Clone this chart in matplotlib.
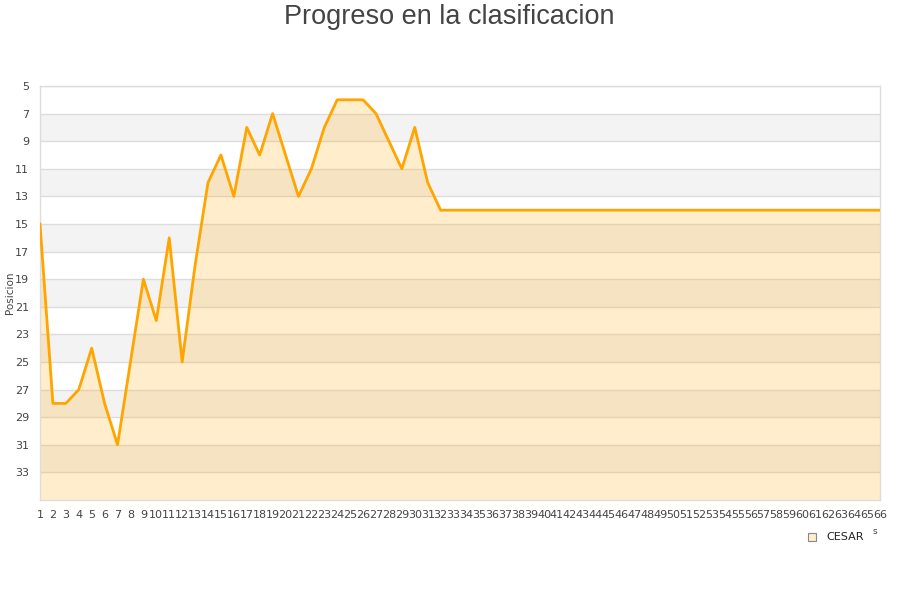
import matplotlib
matplotlib.use("Agg")
import matplotlib.pyplot as plt
from matplotlib.patches import Rectangle

title = "Progreso en la clasificacion"
ylabel = "Posicion"
series_name = "CESAR"
jornadas = list(range(1, 67))
posiciones = [15, 28, 28, 27, 24, 28, 31, 25, 19, 22,
              16, 25, 18, 12, 10, 13, 8, 10, 7, 10,
              13, 11, 8, 6, 6, 6, 7, 9, 11, 8,
              12, 14] + [14] * 34
y_ticks = list(range(5, 35, 2))

fig = plt.figure(figsize=(9, 6), dpi=100)
ax = fig.add_axes([40 / 900, 1 - 500 / 600, 840 / 900, 414 / 600])

ax.set_xlim(1, 66)
ax.set_ylim(35, 5)

# alternating background bands
for lo in range(7, 35, 4):
    ax.axhspan(lo, lo + 2, color="#f3f3f3", zorder=0, lw=0)

for t in y_ticks:
    ax.axhline(t, color="#dddddd", lw=1, zorder=1)

ax.fill_between(jornadas, posiciones, 35, color="orange", alpha=0.2, lw=0, zorder=2)
ax.plot(jornadas, posiciones, color="#FFA500", lw=2.0, zorder=3)

ax.set_yticks(y_ticks)
ax.set_yticklabels([str(t) for t in y_ticks], fontsize=8, color="#444444")
ax.set_xticks(jornadas)
ax.set_xticklabels([str(j) for j in jornadas], fontsize=8, color="#444444")
ax.tick_params(axis="both", length=0)
ax.tick_params(axis="x", pad=7)
ax.tick_params(axis="y", pad=8)
for s in ax.spines.values():
    s.set_color("#dddddd")
    s.set_linewidth(1)

fig.text(10 / 900, 1 - 293 / 600, ylabel, rotation=90, fontsize=7.5,
         color="#444444", ha="center", va="center")
fig.text(449 / 900, 1 - 17 / 600, title, fontsize=19.5, color="#444444",
         ha="center", va="center", family="Liberation Sans")

# legend
fig.patches.append(Rectangle((808 / 900, 1 - 541 / 600), 8 / 900, 8 / 600,
                             transform=fig.transFigure, facecolor="#FFEDCC",
                             edgecolor="#888888", lw=0.8))
fig.text(826 / 900, 1 - 537 / 600, series_name, fontsize=8, color="#222222",
         ha="left", va="center")
fig.text(875 / 900, 1 - 531 / 600, "s", fontsize=6.5, color="#444444",
         ha="center", va="center")

fig.savefig("out.png", dpi=100)
